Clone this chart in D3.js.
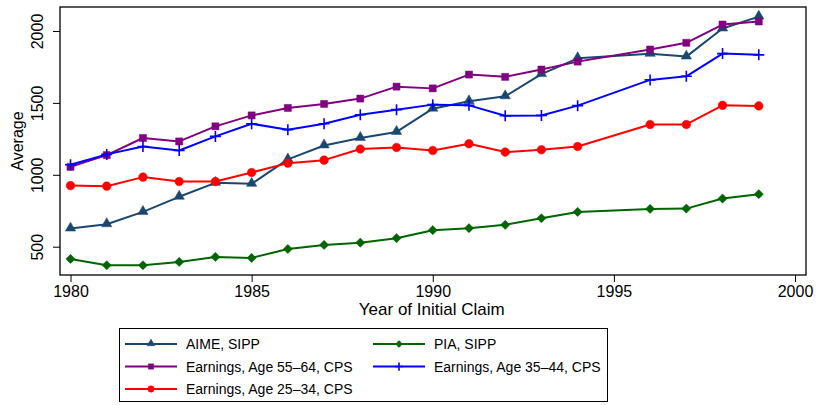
<!DOCTYPE html>
<html>
<head>
<meta charset="utf-8">
<script src="https://cdn.jsdelivr.net/npm/d3@7"></script>
<style>
  html, body { margin: 0; padding: 0; background: #fff; }
  svg { display: block; font-family: "Liberation Sans", Arial, Helvetica, sans-serif; }
</style>
</head>
<body>
<svg id="chart" width="816" height="405"></svg>
<script>
// ---------- data ----------
const years = [1980, 1981, 1982, 1983, 1984, 1985, 1986, 1987, 1988, 1989,
               1990, 1991, 1992, 1993, 1994, 1996, 1997, 1998, 1999];
const aimeSipp = [626, 656, 742, 847, 944, 937, 1107, 1204, 1256, 1298,
                  1460, 1511, 1546, 1700, 1810, 1841, 1822, 2017, 2100];
const piaSipp = [415, 371, 371, 394, 429, 422, 484, 512, 528, 559,
                 615, 629, 652, 698, 742, 763, 765, 835, 865];
const earn5564 = [1055, 1137, 1256, 1232, 1337, 1413, 1465, 1493, 1530, 1613,
                  1601, 1697, 1681, 1732, 1787, 1871, 1918, 2045, 2066];
const earn3544 = [1070, 1142, 1197, 1169, 1267, 1355, 1314, 1355, 1418, 1453,
                  1488, 1483, 1411, 1413, 1481, 1660, 1685, 1843, 1834];
const earn2534 = [925, 921, 984, 953, 953, 1016, 1081, 1102, 1179, 1190,
                  1169, 1216, 1158, 1174, 1197, 1350, 1350, 1483, 1479];

const xTicks = [1980, 1985, 1990, 1995, 2000];
const yTicks = [500, 1000, 1500, 2000];
const xTitle = "Year of Initial Claim";
const yTitle = "Average";

const seriesNames = ["AIME, SIPP", "PIA, SIPP", "Earnings, Age 55\u201364, CPS",
                     "Earnings, Age 35\u201344, CPS", "Earnings, Age 25\u201334, CPS"];
const seriesColors = ["#1a476f", "#006400", "#800080", "#0000ff", "#ff0000"];
const seriesShapes = ["triangle", "diamond", "square", "plus", "circle"];
const seriesValues = [aimeSipp, piaSipp, earn5564, earn3544, earn2534];

// ---------- layout ----------
const svg = d3.select("#chart");
const frame = { left: 60, top: 7, right: 806, bottom: 275 };

const x = d3.scaleLinear().domain([1980, 2000]).range([70.5, 795]);
const y = d3.scaleLinear().domain([500, 2000]).range([246.7, 31]);

// frame
svg.append("rect")
  .attr("x", frame.left).attr("y", frame.top)
  .attr("width", frame.right - frame.left).attr("height", frame.bottom - frame.top)
  .attr("fill", "none").attr("stroke", "#000").attr("stroke-width", 1.3);

// axes
const xAxis = d3.axisBottom(x).tickValues(xTicks).tickFormat(d3.format("d"))
  .tickSize(7).tickPadding(4);
const gx = svg.append("g").attr("transform", `translate(0,${frame.bottom})`).call(xAxis);
gx.select(".domain").remove();
gx.selectAll("line").attr("stroke", "#000").attr("stroke-width", 1);
gx.selectAll("text").attr("font-size", 16).attr("fill", "#000")
  .attr("font-family", "Liberation Sans, Arial, sans-serif");

const yAxis = d3.axisLeft(y).tickValues(yTicks).tickFormat(d3.format("d"))
  .tickSize(7).tickPadding(0);
const gy = svg.append("g").attr("transform", `translate(${frame.left},0)`).call(yAxis);
gy.select(".domain").remove();
gy.selectAll("line").attr("stroke", "#000").attr("stroke-width", 1);
gy.selectAll("text")
  .attr("font-size", 16).attr("fill", "#000")
  .attr("font-family", "Liberation Sans, Arial, sans-serif")
  .attr("x", null).attr("dy", null)
  .attr("text-anchor", "middle")
  .attr("transform", "translate(-17,0) rotate(-90)");

// axis titles
svg.append("text")
  .attr("x", (x(1980) + x(2000)) / 2 - 1).attr("y", 315)
  .attr("text-anchor", "middle").attr("font-size", 17).attr("fill", "#000")
  .text(xTitle);
svg.append("text")
  .attr("transform", `translate(23,${(frame.top + frame.bottom) / 2}) rotate(-90)`)
  .attr("text-anchor", "middle").attr("font-size", 16).attr("fill", "#000")
  .text(yTitle);

// markers
function drawMarker(g, shape, color, scale) {
  if (shape === "plus") {
    const s = 5.5 * scale;
    g.append("path").attr("d", `M${-s},0H${s}M0,${-s}V${s}`)
      .attr("stroke", color).attr("stroke-width", 1.6).attr("fill", "none");
    return;
  }
  if (shape === "diamond") {
    const s = 4.6 * scale;
    g.append("path").attr("d", `M0,${-s}L${s},0L0,${s}L${-s},0Z`)
      .attr("fill", color).attr("stroke", color).attr("stroke-width", 0.5);
    return;
  }
  const map = {
    triangle: [d3.symbolTriangle, 46],
    square: [d3.symbolSquare, 50],
    circle: [d3.symbolCircle, 58]
  };
  const [type, size] = map[shape];
  g.append("path")
    .attr("d", d3.symbol().type(type).size(size * scale * scale)())
    .attr("transform", shape === "triangle" ? "translate(0,-0.5)" : null)
    .attr("fill", color).attr("stroke", color).attr("stroke-width", 0.5);
}

// series
const line = d3.line().x(d => x(d[0])).y(d => y(d[1]));
seriesValues.forEach((vals, i) => {
  const pts = years.map((yr, j) => [yr, vals[j]]);
  const g = svg.append("g");
  g.append("path").datum(pts)
    .attr("d", line).attr("fill", "none")
    .attr("stroke", seriesColors[i]).attr("stroke-width", 2)
    .attr("stroke-linejoin", "round");
  pts.forEach(p => {
    const mg = g.append("g").attr("transform", `translate(${x(p[0])},${y(p[1])})`);
    drawMarker(mg, seriesShapes[i], seriesColors[i], 1);
  });
});

// legend
const legend = svg.append("g");
legend.append("rect")
  .attr("x", 119.5).attr("y", 328.5).attr("width", 488).attr("height", 73)
  .attr("fill", "#fff").attr("stroke", "#000").attr("stroke-width", 1);
const colX = [125, 373];
const rowY = [344, 366.5, 389];
seriesNames.forEach((name, i) => {
  const cx = colX[i % 2], cy = rowY[Math.floor(i / 2)];
  const g = legend.append("g");
  g.append("line").attr("x1", cx).attr("x2", cx + 52).attr("y1", cy).attr("y2", cy)
    .attr("stroke", seriesColors[i]).attr("stroke-width", 2);
  const mg = g.append("g").attr("transform", `translate(${cx + 26},${cy})`);
  drawMarker(mg, seriesShapes[i], seriesColors[i], 0.75);
  g.append("text").attr("x", cx + 61).attr("y", cy + 5)
    .attr("font-size", 14).attr("fill", "#000").text(name);
});
</script>
</body>
</html>
